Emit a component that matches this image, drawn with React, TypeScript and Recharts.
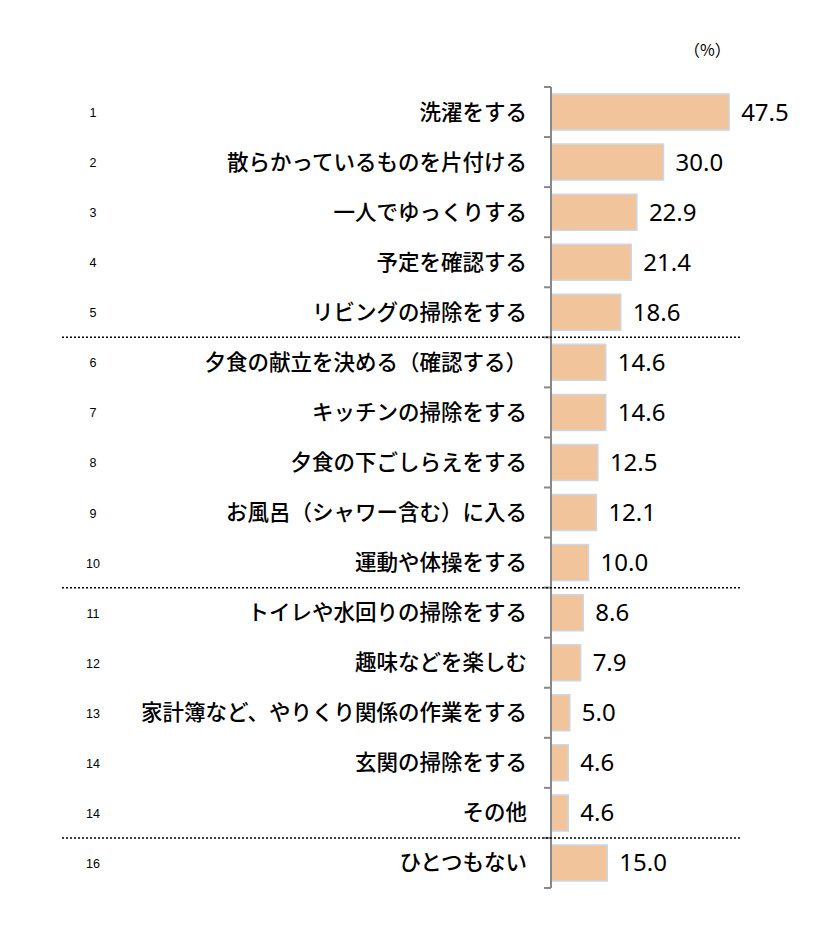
import { BarChart, Bar, XAxis, YAxis, LabelList } from 'recharts';

const categories = [
  '洗濯をする',
  '散らかっているものを片付ける',
  '一人でゆっくりする',
  '予定を確認する',
  'リビングの掃除をする',
  '夕食の献立を決める（確認する）',
  'キッチンの掃除をする',
  '夕食の下ごしらえをする',
  'お風呂（シャワー含む）に入る',
  '運動や体操をする',
  'トイレや水回りの掃除をする',
  '趣味などを楽しむ',
  '家計簿など、やりくり関係の作業をする',
  '玄関の掃除をする',
  'その他',
  'ひとつもない',
];
const ranks = ['1', '2', '3', '4', '5', '6', '7', '8', '9', '10', '11', '12', '13', '14', '14', '16'];
const values = [47.5, 30.0, 22.9, 21.4, 18.6, 14.6, 14.6, 12.5, 12.1, 10.0, 8.6, 7.9, 5.0, 4.6, 4.6, 15.0];
const separatorsBefore = [5, 10, 15];

const data = categories.map((name, i) => ({ name, rank: ranks[i], value: values[i] }));

const W = 834;
const H = 932;
const AXIS_X = 551;
const TOP = 87;
const BOTTOM = 888;
const BAND = (BOTTOM - TOP) / categories.length;

const CategoryTick = (props: any) => {
  const { y, payload } = props;
  const i = payload.index;
  const top = y - BAND / 2;
  return (
    <g>
      <text x={93} y={y + 1} textAnchor="middle" dominantBaseline="central" fontSize={12.5} fill="#000" fontFamily="'Liberation Sans', Arial, sans-serif">
        {ranks[i]}
      </text>
      <text x={527} y={y - 2} textAnchor="end" dominantBaseline="central" fontSize={21.5} fontWeight={500} fill="#000" fontFamily="'Noto Sans CJK JP', sans-serif">
        {payload.value}
      </text>
      <line x1={AXIS_X - 7} x2={AXIS_X} y1={top} y2={top} stroke="#888" strokeWidth={2} />
      {i === categories.length - 1 && (
        <line x1={AXIS_X - 7} x2={AXIS_X} y1={y + BAND / 2} y2={y + BAND / 2} stroke="#888" strokeWidth={2} />
      )}
      {separatorsBefore.includes(i) && (
        <line x1={62} x2={740} y1={top} y2={top} stroke="#000" strokeWidth={1.5} strokeDasharray="2 2" />
      )}
    </g>
  );
};

export default function App() {
  return (
    <div style={{ position: 'absolute', left: 0, top: 0, width: W, height: H, background: '#fff' }}>
      <div style={{ position: 'absolute', left: 684, top: 37, fontSize: 16, fontFamily: "'Noto Sans CJK JP', sans-serif", color: '#000' }}>
        （%）
      </div>
      <BarChart
        width={W}
        height={H}
        data={data}
        layout="vertical"
        margin={{ top: TOP, right: W - AXIS_X - 225, bottom: H - BOTTOM, left: 0 }}
      >
        <XAxis type="number" domain={[0, 60]} hide />
        <YAxis
          type="category"
          dataKey="name"
          width={AXIS_X}
          axisLine={{ stroke: '#888', strokeWidth: 2 }}
          tickLine={false}
          tick={<CategoryTick />}
          interval={0}
        />
        <Bar dataKey="value" fill="#F2C49B" stroke="#CBD6E6" strokeWidth={1.5} barSize={36} isAnimationActive={false}>
          <LabelList
            dataKey="value"
            position="right"
            offset={12}
            formatter={(v: any) => Number(v).toFixed(1)}
            style={{ fontSize: 24, fill: '#000', fontFamily: "'Noto Sans', sans-serif" }}
          />
        </Bar>
      </BarChart>
    </div>
  );
}
